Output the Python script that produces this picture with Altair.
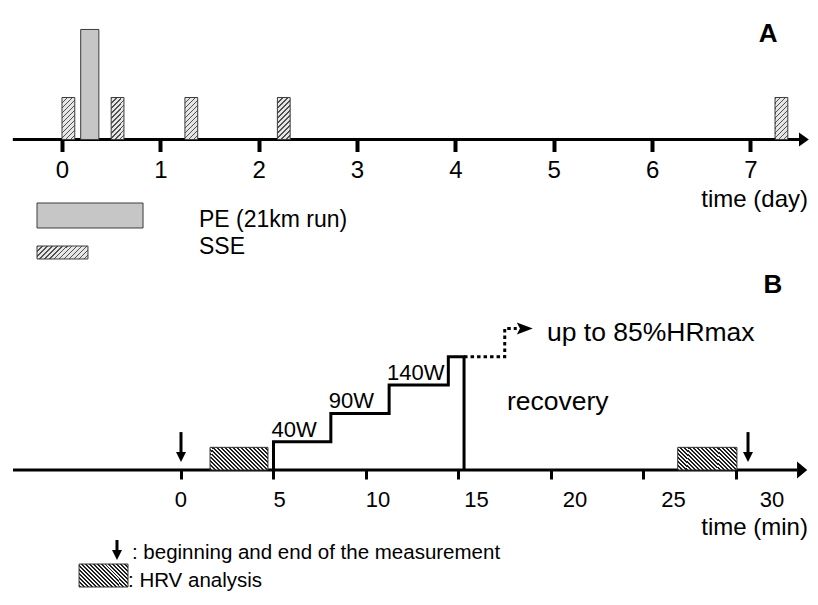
import altair as alt
import pandas as pd

FONT = "Liberation Sans"

# ---------------- data: panel A (time in days) ----------------
day_ticks = [0, 1, 2, 3, 4, 5, 6, 7]
sse_start = [0.0, 0.5, 1.25, 2.19, 7.25]
sse_end = [0.13, 0.63, 1.38, 2.32, 7.38]
sse_height = [1.0, 1.0, 1.0, 1.0, 1.0]
pe_start = [0.19]
pe_end = [0.375]
pe_height = [2.62]
legend_a_labels = ["PE (21km run)", "SSE"]

# ---------------- data: panel B (time in minutes) ----------------
min_ticks = [0, 5, 10, 15, 20, 25, 30]
stage_labels = ["40W", "90W", "140W"]
stage_start = [5.0, 8.1, 11.25]
stage_level = [1, 2, 3]
step_time = [5.0, 5.0, 8.1, 8.1, 11.25, 11.25, 14.45, 14.45, 15.3, 15.3]
step_level = [0, 1, 1, 2, 2, 3, 3, 4, 4, 0]
dotted_time = [15.3, 17.5, 17.5, 18.15]
dotted_level = [4, 4, 5, 5]
hrv_start = [1.57, 26.85]
hrv_end = [4.7, 30.05]
hrv_height = [0.8, 0.8]
measure_time = [0.0, 30.65]
legend_b_labels = [": beginning and end of the measurement", ": HRV analysis"]

# ---------------- layout ----------------
W, HA, HB = 798, 258, 321
XA = alt.Scale(domain=[-0.549, 7.565], nice=False, zero=False)
YA = alt.Scale(domain=[-3.012, 3.131], nice=False, zero=False)
XB = alt.Scale(domain=[-9.351, 33.784], nice=False, zero=False)
YB = alt.Scale(domain=[-4.134, 7.208], nice=False, zero=False)

AXA = alt.Axis(values=day_ticks, domain=False, grid=False, tickSize=12, tickWidth=4,
               tickColor="black", labelFontSize=24, labelFont=FONT, labelColor="black",
               labelPadding=7, labelFlush=False, labelOverlap=False, offset=-126.5,
               title=None, format="d")
AXB = alt.Axis(values=min_ticks, domain=False, grid=False, tickSize=9, tickWidth=3,
               tickColor="black", labels=False, offset=-117, title=None)


def enc(panel, x, y, x2=None, y2=None):
    xs, ys, ax = (XA, YA, AXA) if panel == "A" else (XB, YB, AXB)
    e = dict(x=alt.X(f"{x}:Q", scale=xs, axis=ax), y=alt.Y(f"{y}:Q", scale=ys, axis=None))
    if x2:
        e["x2"] = alt.X2(x2)
    if y2:
        e["y2"] = alt.Y2(y2)
    return e


def hatch(w, h, n, line, bg, duty, direction):
    r = h / w
    s = (1 + r) / (1 + r * r)
    if direction == "/":
        x1, y1, x2, y2 = 0, 0, s, s * r
    else:
        x1, y1, x2, y2 = 0, 1, s, 1 - s * r
    stops = []
    for i in range(n):
        a, b, c = i / n, (i + duty) / n, (i + 1) / n
        stops += [alt.GradientStop(offset=round(a, 4), color=line),
                  alt.GradientStop(offset=round(b, 4), color=line),
                  alt.GradientStop(offset=round(b, 4), color=bg),
                  alt.GradientStop(offset=round(c, 4), color=bg)]
    return alt.LinearGradient(gradient="linear", stops=stops,
                              x1=round(x1, 4), y1=round(y1, 4), x2=round(x2, 4), y2=round(y2, 4))


SSE_FILL = hatch(13, 42, 11, "#505050", "#e6e6e6", 0.3, "/")
SSE_LEG_FILL = hatch(51, 13, 13, "#505050", "#e6e6e6", 0.3, "/")
HRV_FILL = hatch(58, 23, 20, "#1e1e1e", "#f2f2f2", 0.5, "\\")
HRV_LEG_FILL = hatch(49, 23, 18, "#1e1e1e", "#f2f2f2", 0.5, "\\")
PE_FILL = "#c6c6c6"

ARROW_A = "M0,-1L1.4,0L0,1Z"
ARROW_B = "M0,-1L1.2,0L0,1Z"
ARROW_DOT = "M0,-0.75L2,0L0,0.75L0.4,0Z"
ARROW_DOWN = "M-1,0L1,0L0,2Z"


def text(panel, df, **kw):
    base = dict(font=FONT, color="black", align="left", baseline="alphabetic")
    base.update(kw)
    return alt.Chart(df).mark_text(**base).encode(**enc(panel, "x", "y"), text="t:N")


# ================= Panel A =================
a_axis = alt.Chart(pd.DataFrame({"x0": [-0.5], "x1": [7.494], "y": [0]})).mark_rule(
    color="black", strokeWidth=3).encode(**enc("A", "x0", "y", x2="x1"))
a_head = alt.Chart(pd.DataFrame({"x": [7.494], "y": [0]})).mark_point(
    shape=ARROW_A, size=196, filled=True, color="black", opacity=1, strokeWidth=0
).encode(**enc("A", "x", "y"))

sse_df = pd.DataFrame({"s": sse_start, "e": sse_end, "b": 0.0, "h": sse_height})
a_sse = alt.Chart(sse_df).mark_rect(fill=SSE_FILL, stroke="#3c3c3c", strokeWidth=1).encode(
    **enc("A", "s", "b", x2="e", y2="h"))
pe_df = pd.DataFrame({"s": pe_start, "e": pe_end, "b": 0.0, "h": pe_height})
a_pe = alt.Chart(pe_df).mark_rect(fill=PE_FILL, stroke="#3c3c3c", strokeWidth=1).encode(
    **enc("A", "s", "b", x2="e", y2="h"))

leg_pe = alt.Chart(pd.DataFrame({"s": [-0.254], "e": [0.824], "b": [-2.107], "h": [-1.512]})).mark_rect(
    fill=PE_FILL, stroke="#3c3c3c", strokeWidth=1).encode(**enc("A", "s", "b", x2="e", y2="h"))
leg_sse = alt.Chart(pd.DataFrame({"s": [-0.254], "e": [0.264], "b": [-2.845], "h": [-2.536]})).mark_rect(
    fill=SSE_LEG_FILL, stroke="#3c3c3c", strokeWidth=1).encode(**enc("A", "s", "b", x2="e", y2="h"))
leg_a_txt = text("A", pd.DataFrame({"t": legend_a_labels, "x": [1.393, 1.393], "y": [-2.083, -2.726]}),
                 fontSize=23)
a_label = text("A", pd.DataFrame({"t": ["A"], "x": [7.18], "y": [2.321]}), fontSize=26,
               fontWeight="bold", align="center")
a_title = text("A", pd.DataFrame({"t": ["time (day)"], "x": [7.585], "y": [-1.607]}), fontSize=24,
               align="right")

panelA = alt.layer(a_axis, a_head, a_sse, a_pe, leg_pe, leg_sse, leg_a_txt, a_label, a_title).properties(
    width=W, height=HA)

# ================= Panel B =================
b_axis = alt.Chart(pd.DataFrame({"x0": [-9.08], "x1": [33.3], "y": [0]})).mark_rule(
    color="black", strokeWidth=3).encode(**enc("B", "x0", "y", x2="x1"))
b_head = alt.Chart(pd.DataFrame({"x": [33.3], "y": [0]})).mark_point(
    shape=ARROW_B, size=289, filled=True, color="black", opacity=1, strokeWidth=0
).encode(**enc("B", "x", "y"))

hrv_df = pd.DataFrame({"s": hrv_start, "e": hrv_end, "b": 0.0, "h": hrv_height})
b_hrv = alt.Chart(hrv_df).mark_rect(fill=HRV_FILL, stroke="#333333", strokeWidth=1).encode(
    **enc("B", "s", "b", x2="e", y2="h"))

step_df = pd.DataFrame({"x": step_time, "y": step_level, "i": range(len(step_time))})
b_step = alt.Chart(step_df).mark_line(color="black", strokeWidth=3, strokeJoin="miter").encode(
    **enc("B", "x", "y"), order="i:Q")
dot_df = pd.DataFrame({"x": dotted_time, "y": dotted_level, "i": range(len(dotted_time))})
b_dot = alt.Chart(dot_df).mark_line(color="black", strokeWidth=3, strokeDash=[3.5, 3]).encode(
    **enc("B", "x", "y"), order="i:Q")
b_dot_head = alt.Chart(pd.DataFrame({"x": [dotted_time[-1]], "y": [dotted_level[-1]]})).mark_point(
    shape=ARROW_DOT, size=256, filled=True, color="black", opacity=1, strokeWidth=0
).encode(**enc("B", "x", "y"))

meas_df = pd.DataFrame({"x": measure_time + [-3.46], "y0": [1.34, 1.34, -2.473],
                        "y1": [0.636, 0.636, -2.827]})
b_meas = alt.Chart(meas_df).mark_rule(color="black", strokeWidth=3).encode(
    **enc("B", "x", "y0", y2="y1"))
b_meas_head = alt.Chart(meas_df).mark_point(
    shape=ARROW_DOWN, size=100, filled=True, color="black", opacity=1, strokeWidth=0
).encode(**enc("B", "x", "y1"))

leg_hrv = alt.Chart(pd.DataFrame({"s": [-5.51], "e": [-2.865], "b": [-4.134], "h": [-3.322]})).mark_rect(
    fill=HRV_LEG_FILL, stroke="#333333", strokeWidth=1).encode(**enc("B", "s", "b", x2="e", y2="h"))

stage_txt = text("B", pd.DataFrame({"t": stage_labels, "x": stage_start, "y": stage_level}),
                 fontSize=22, dx=-2, dy=-5)
rec_txt = text("B", pd.DataFrame({"t": ["recovery"], "x": [17.62], "y": [2.12]}), fontSize=26.5)
up_txt = text("B", pd.DataFrame({"t": ["up to 85%HRmax"], "x": [19.78], "y": [4.558]}), fontSize=26.5)
b_label = text("B", pd.DataFrame({"t": ["B"], "x": [32.0], "y": [6.254]}), fontSize=26,
               fontWeight="bold", align="center")
b_title = text("B", pd.DataFrame({"t": ["time (min)"], "x": [33.89], "y": [-2.3]}), fontSize=24,
               align="right")
tick_lab = alt.Chart(pd.DataFrame({"v": min_ticks, "t": [str(v) for v in min_ticks], "y": -1.307})
                     ).transform_calculate(x="datum.v * 1.065").mark_text(
    font=FONT, color="black", align="center", baseline="alphabetic", fontSize=22
).encode(**enc("B", "x", "y"), text="t:N")
leg_b_txt = text("B", pd.DataFrame({"t": legend_b_labels, "x": [-2.65, -2.865], "y": [-3.145, -4.134]}),
                 fontSize=20.5)

panelB = alt.layer(b_axis, b_head, b_hrv, b_step, b_dot, b_dot_head, b_meas, b_meas_head, leg_hrv,
                   stage_txt, rec_txt, up_txt, b_label, b_title, tick_lab, leg_b_txt).properties(
    width=W, height=HB)

chart = alt.vconcat(panelA, panelB, spacing=0).properties(padding=0).configure_view(
    strokeWidth=0, stroke="transparent")

chart.save("out.html", embed_options={"renderer": "svg", "actions": False})
